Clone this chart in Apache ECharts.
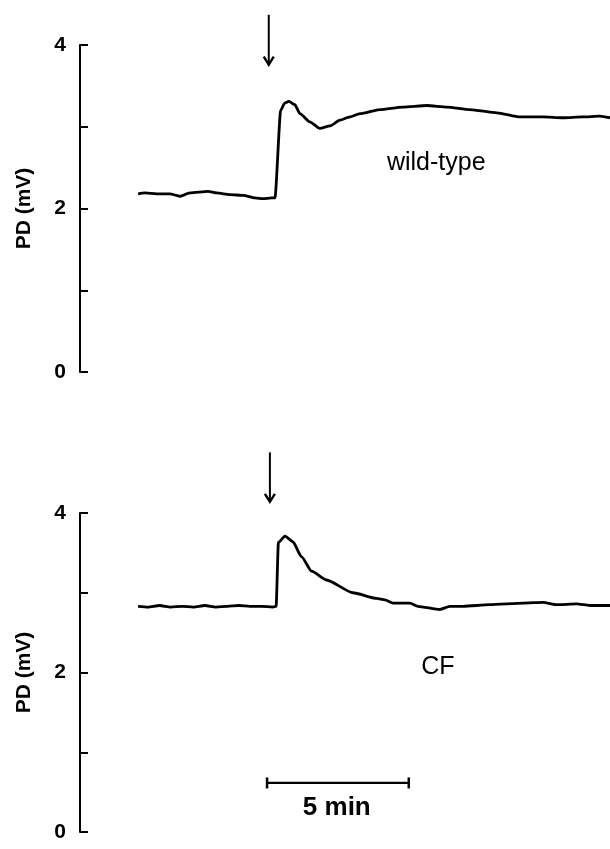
<!DOCTYPE html>
<html>
<head>
<meta charset="utf-8">
<script src="https://cdn.jsdelivr.net/npm/echarts@6/dist/echarts.min.js"></script>
<style>
  html, body { margin: 0; padding: 0; background: #fff; }
  #chart { width: 610px; height: 849px; }
</style>
</head>
<body>
<div id="chart"></div>
<script>
// time in minutes (0 = addition, arrow), PD in mV
const wtTime = [-4.65, -4.41, -4.0, -3.53, -3.18, -2.82, -2.18, -1.88, -1.41, -0.94, -0.53, -0.24, 0.06, 0.18, 0.38, 0.52, 0.67, 0.88, 1.06, 1.41, 1.76, 2.12, 2.47, 2.82, 3.18, 3.88, 4.69, 5.54, 6.25, 7.06, 8.01, 8.82, 9.63, 10.34, 11.04, 11.64, 12.0]
const wtPD = [2.18, 2.19, 2.18, 2.18, 2.15, 2.19, 2.21, 2.19, 2.17, 2.16, 2.13, 2.12, 2.13, 2.13, 3.20, 3.29, 3.31, 3.27, 3.16, 3.06, 2.98, 3.01, 3.08, 3.12, 3.16, 3.21, 3.24, 3.26, 3.24, 3.21, 3.17, 3.12, 3.12, 3.11, 3.12, 3.13, 3.11]

const cfTime = [-4.65, -4.3, -3.9, -3.5, -3.1, -2.7, -2.3, -1.9, -1.5, -1.1, -0.7, -0.3, 0.1, 0.22, 0.30, 0.53, 0.81, 1.12, 1.47, 2.0, 2.93, 3.76, 4.06, 4.34, 4.94, 5.22, 6.0, 6.35, 6.82, 7.76, 8.94, 9.64, 10.12, 10.82, 11.29, 12.0]
const cfPD = [2.83, 2.82, 2.84, 2.82, 2.83, 2.82, 2.84, 2.82, 2.83, 2.84, 2.83, 2.83, 2.82, 2.83, 3.63, 3.71, 3.64, 3.45, 3.27, 3.16, 3.00, 2.93, 2.91, 2.87, 2.87, 2.83, 2.79, 2.83, 2.83, 2.85, 2.87, 2.88, 2.85, 2.86, 2.84, 2.84]

const yTicks = [0, 1, 2, 3, 4]
const yLabels = ['0', '', '2', '', '4']
const panelNames = ['wild-type', 'CF']
const labelPos = [[5.87, 2.56], [5.93, 2.07]]   // where the panel names sit
const arrowTime = [-0.04, 0.0]
const arrowTop = [4.37, 4.76]
const arrowTip = [3.76, 4.14]
const scaleBar = [[-0.1, 0.615], [4.9, 0.615]]  // 5 min bar
const scaleText = '5 min'

const FONT = '"Liberation Sans", Arial, sans-serif'
const chart = echarts.init(document.getElementById('chart'))

function yAxisFor(gridIndex) {
  return {
    type: 'value',
    gridIndex: gridIndex,
    min: 0,
    max: 4,
    interval: 1,
    name: 'PD (mV)',
    nameLocation: 'middle',
    nameGap: 45,
    nameTextStyle: { color: '#000', fontSize: 21, fontWeight: 'bold', fontFamily: FONT },
    axisLine: { show: true, onZero: false, lineStyle: { color: '#000', width: 2 } },
    axisTick: { show: true, inside: true, length: 8, lineStyle: { color: '#000', width: 2 } },
    axisLabel: {
      margin: 14,
      color: '#000',
      fontSize: 21,
      fontWeight: 'bold',
      fontFamily: FONT,
      formatter: v => yLabels[yTicks.indexOf(v)]
    },
    splitLine: { show: false }
  }
}

function xAxisFor(gridIndex) {
  return { type: 'value', gridIndex: gridIndex, min: -6.7, max: 12, show: false }
}

function nameMark(i) {
  return {
    silent: true,
    symbolSize: 0,
    data: [{ coord: labelPos[i] }],
    label: {
      show: true,
      position: 'inside',
      formatter: panelNames[i],
      color: '#000',
      fontSize: 25,
      fontFamily: FONT
    }
  }
}

const option = {
  backgroundColor: '#fff',
  animation: false,
  grid: [
    { left: 80, right: 0, top: 45, height: 327 },
    { left: 80, right: 0, top: 513, height: 319 }
  ],
  xAxis: [xAxisFor(0), xAxisFor(1)],
  yAxis: [yAxisFor(0), yAxisFor(1)],
  series: [
    {
      type: 'line',
      xAxisIndex: 0,
      yAxisIndex: 0,
      data: wtTime.map((t, i) => [t, wtPD[i]]),
      showSymbol: false,
      smooth: 0.2,
      smoothMonotone: 'x',
      clip: false,
      lineStyle: { color: '#000', width: 2.8 },
      markPoint: nameMark(0)
    },
    {
      type: 'line',
      xAxisIndex: 1,
      yAxisIndex: 1,
      data: cfTime.map((t, i) => [t, cfPD[i]]),
      showSymbol: false,
      smooth: 0.2,
      smoothMonotone: 'x',
      clip: false,
      lineStyle: { color: '#000', width: 2.8 },
      markPoint: nameMark(1)
    },
    {
      // scale bar
      type: 'line',
      xAxisIndex: 1,
      yAxisIndex: 1,
      data: scaleBar,
      symbol: 'rect',
      symbolSize: [2.5, 11],
      itemStyle: { color: '#000' },
      lineStyle: { color: '#000', width: 2.2 },
      markPoint: {
        silent: true,
        symbolSize: 0,
        data: [{ coord: [2.36, 0.30] }],
        label: {
          show: true,
          position: 'inside',
          formatter: scaleText,
          color: '#000',
          fontSize: 26,
          fontWeight: 'bold',
          fontFamily: FONT
        }
      }
    }
  ]
}
chart.setOption(option)

// arrows marking the addition, placed through the grid scales
const arrows = []
for (let g = 0; g < 2; g++) {
  const p1 = chart.convertToPixel({ gridIndex: g }, [arrowTime[g], arrowTop[g]])
  const p2 = chart.convertToPixel({ gridIndex: g }, [arrowTime[g], arrowTip[g]])
  arrows.push({
    type: 'line',
    shape: { x1: p1[0], y1: p1[1], x2: p2[0], y2: p2[1] },
    style: { stroke: '#000', lineWidth: 2 }
  })
  arrows.push({
    type: 'polyline',
    shape: { points: [[p2[0] - 5, p2[1] - 8], [p2[0], p2[1]], [p2[0] + 5, p2[1] - 8]] },
    style: { stroke: '#000', lineWidth: 2.4, fill: null }
  })
}
chart.setOption({ graphic: arrows })
</script>
</body>
</html>
